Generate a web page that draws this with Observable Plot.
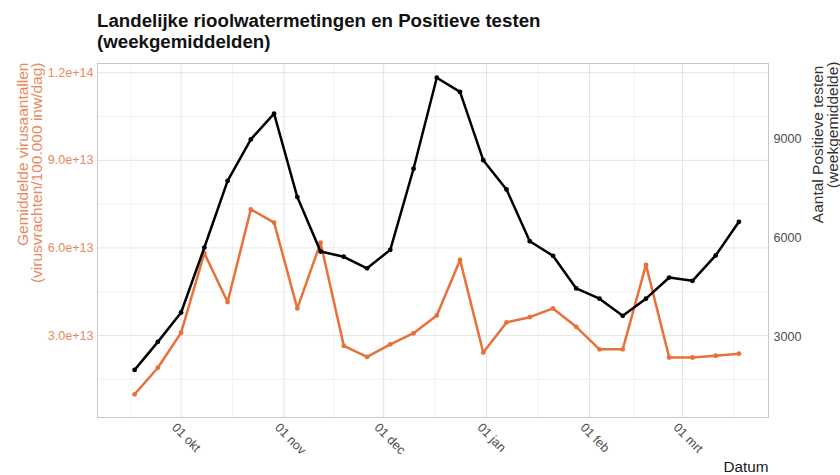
<!DOCTYPE html>
<html><head><meta charset="utf-8">
<script src="https://cdn.jsdelivr.net/npm/d3@7"></script>
<script src="https://cdn.jsdelivr.net/npm/@observablehq/plot@0.6"></script>
<style>
body{margin:0;background:#fff;font-family:"Liberation Sans",Arial,sans-serif;}
#title{height:54px;box-sizing:border-box;padding:10px 0 0 97px;font-weight:bold;font-size:18.7px;line-height:21px;color:#111;white-space:nowrap;}
#chart svg{display:block;}
</style></head><body>
<div id="title">Landelijke rioolwatermetingen en Positieve testen<br>(weekgemiddelden)</div>
<div id="chart"></div>
<script>
// Weekly dates (weekgemiddelden)
const dates = ["2020-09-17","2020-09-24","2020-10-01","2020-10-08","2020-10-15","2020-10-22","2020-10-29",
  "2020-11-05","2020-11-12","2020-11-19","2020-11-26","2020-12-03","2020-12-10","2020-12-17","2020-12-24","2020-12-31",
  "2021-01-07","2021-01-14","2021-01-21","2021-01-28","2021-02-04","2021-02-11","2021-02-18","2021-02-25",
  "2021-03-04","2021-03-11","2021-03-18"];
// Gemiddelde virusaantallen (virusvrachten/100.000 inw/dag)
const virus = [0.99e13,1.90e13,3.10e13,5.82e13,4.15e13,7.32e13,6.87e13,3.93e13,6.18e13,2.65e13,2.27e13,2.70e13,3.08e13,
  3.69e13,5.59e13,2.42e13,3.45e13,3.63e13,3.93e13,3.30e13,2.53e13,2.53e13,5.42e13,2.25e13,2.25e13,2.31e13,2.38e13];
// Aantal positieve testen (weekgemiddelde)
const tests = [1990,2840,3730,5700,7720,8980,9760,7230,5580,5420,5070,5630,8090,10850,10420,8350,7460,5890,5450,
  4460,4150,3630,4150,4790,4690,5460,6480];

const monthTicks = ["2020-10-01","2020-11-01","2020-12-01","2021-01-01","2021-02-01","2021-03-01"];
const monthLabels = ["01 okt","01 nov","01 dec","01 jan","01 feb","01 mrt"];
const minorX = ["2020-09-16","2020-10-16T12:00Z","2020-11-16","2020-12-16T12:00Z","2021-01-16T12:00Z","2021-02-14T12:00Z","2021-03-16T12:00Z"];
const leftTicks = [3e13,6e13,9e13,1.2e14];
const leftMinor = [1.5e13,4.5e13,7.5e13,1.05e14];
const rightTicks = [3000,6000,9000];

const leftDomain = [1.95e12, 1.2315e14];
const rightDomain = [546, 11281];
const toLeft = r => leftDomain[0] + (r - rightDomain[0]) / (rightDomain[1] - rightDomain[0]) * (leftDomain[1] - leftDomain[0]);

const orange = "#E8703A";
const orangeText = "#E8895E";
const rows = dates.map((d, i) => ({date: new Date(d), virus: virus[i], tests: tests[i]}));

const plot = Plot.plot({
  width: 840, height: 421,
  marginTop: 9, marginBottom: 58, marginLeft: 97, marginRight: 72,
  style: {fontFamily: "Liberation Sans, Arial, sans-serif", background: "#fff", overflow: "visible"},
  x: {type: "utc", domain: [new Date("2020-09-05T19:40Z"), new Date("2021-03-26T21:40Z")], axis: null},
  y: {domain: leftDomain, axis: null},
  marks: [
    Plot.ruleY(leftMinor, {y: d => d, stroke: "#efefef", strokeWidth: 0.8}),
    Plot.ruleX(minorX.map(d => new Date(d)), {x: d => d, stroke: "#efefef", strokeWidth: 0.8}),
    Plot.ruleY(leftTicks, {y: d => d, stroke: "#e4e4e4", strokeWidth: 1}),
    Plot.ruleX(monthTicks.map(d => new Date(d)), {x: d => d, stroke: "#e4e4e4", strokeWidth: 1}),
    Plot.frame({stroke: "#c8c8c8", strokeWidth: 1}),
    // left axis
    Plot.text(leftTicks, {y: d => d, text: d => d.toExponential(1), frameAnchor: "left", dx: -4, textAnchor: "end", fill: orangeText, fontSize: 12.6}),
    // right axis
    Plot.text(rightTicks, {y: d => toLeft(d), text: d => String(d), frameAnchor: "right", dx: 5, textAnchor: "start", fill: "#4d4d4d", fontSize: 12.6}),
    // x axis
    Plot.text(monthTicks, {x: d => new Date(d), text: (d, i) => monthLabels[i], frameAnchor: "bottom", dy: 8, dx: -7, rotate: 45, textAnchor: "start", lineAnchor: "middle", fill: "#4d4d4d", fontSize: 12.6}),
    // axis titles
    Plot.text(["Gemiddelde virusaantallen"], {text: d => d, frameAnchor: "top-left", dx: -70, dy: -1, rotate: -90, textAnchor: "end", lineAnchor: "bottom", fill: orangeText, fontSize: 15.5}),
    Plot.text(["(virusvrachten/100.000 inw/dag)"], {text: d => d, frameAnchor: "top-left", dx: -56, dy: -1, rotate: -90, textAnchor: "end", lineAnchor: "bottom", fill: orangeText, fontSize: 15.5}),
    Plot.text(["Aantal Positieve testen"], {text: d => d, frameAnchor: "top-right", dx: 54, dy: 2, rotate: -90, textAnchor: "end", lineAnchor: "bottom", fill: "#333", fontSize: 15.5}),
    Plot.text(["(weekgemiddelde)"], {text: d => d, frameAnchor: "top-right", dx: 69, dy: -2, rotate: -90, textAnchor: "end", lineAnchor: "bottom", fill: "#333", fontSize: 15.5}),
    Plot.text(["Datum"], {text: d => d, frameAnchor: "bottom-right", dy: 54, textAnchor: "end", lineAnchor: "bottom", fill: "#1a1a1a", fontSize: 15.3}),
    // series
    Plot.line(rows, {x: "date", y: "virus", stroke: orange, strokeWidth: 2.5}),
    Plot.dot(rows, {x: "date", y: "virus", r: 2.4, fill: orange}),
    Plot.line(rows, {x: "date", y: d => toLeft(d.tests), stroke: "#000", strokeWidth: 2.5}),
    Plot.dot(rows, {x: "date", y: d => toLeft(d.tests), r: 2.4, fill: "#000"})
  ]
});
document.getElementById("chart").appendChild(plot);
</script>
</body></html>
